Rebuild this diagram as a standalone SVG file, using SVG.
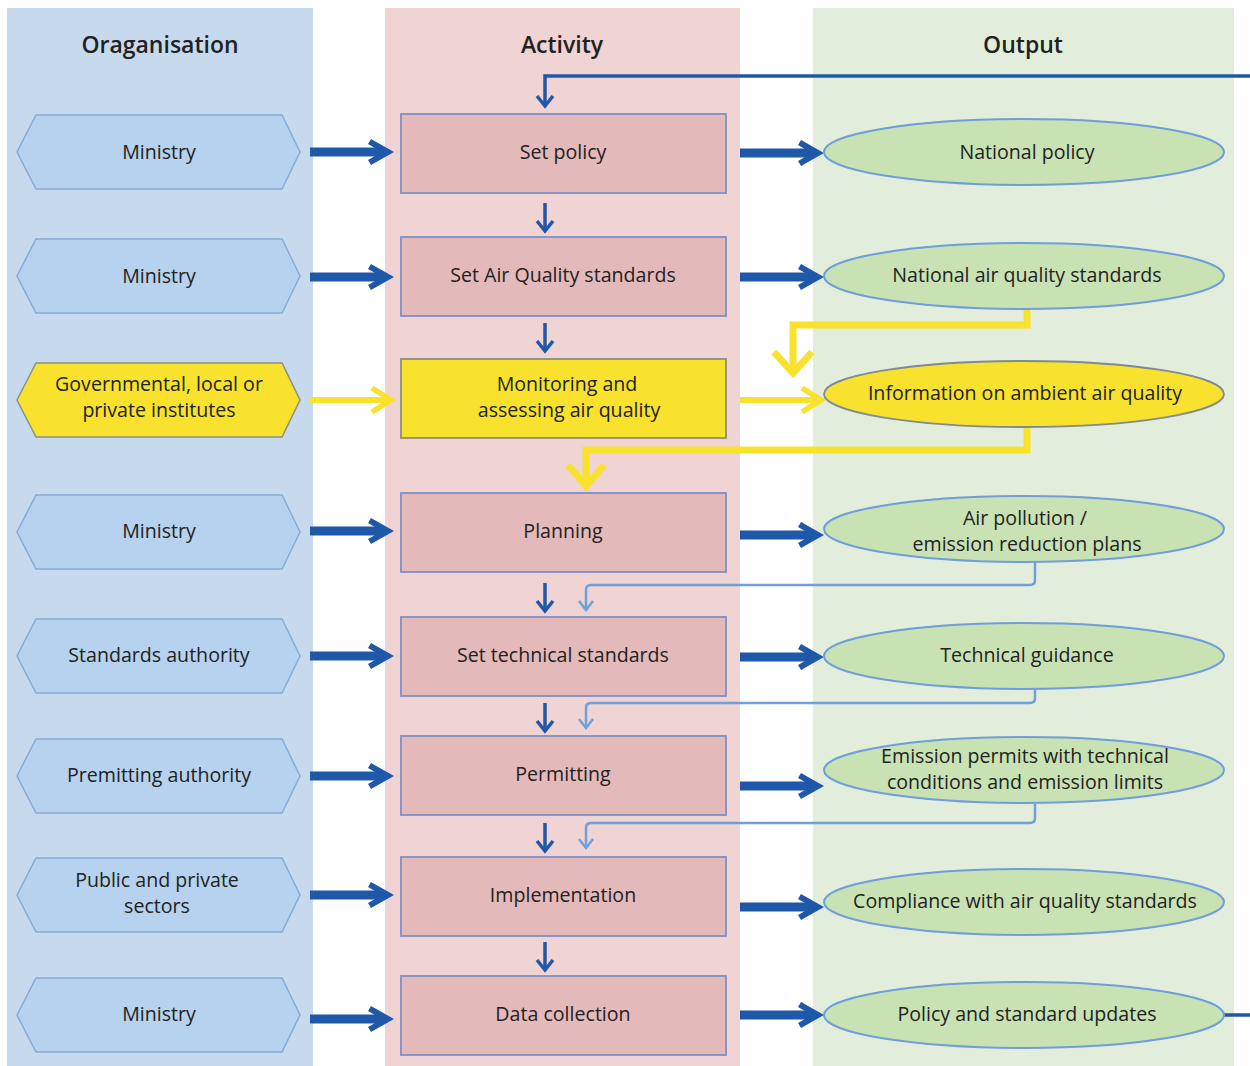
<svg xmlns="http://www.w3.org/2000/svg" xmlns:xlink="http://www.w3.org/1999/xlink" width="1250" height="1066" viewBox="0 0 1250 1066">
<style>
text{font-family:"Open Sans","Noto Sans","Liberation Sans",sans-serif;fill:#222;text-anchor:middle}
.hd{font-size:23px;font-weight:600}
.t{font-size:19.6px}
.hex{fill:#b6d2ee;stroke:#86aad6;stroke-width:1.5}
.hexY{fill:#f8e22e;stroke:#8d8f80;stroke-width:1.5}
.box{fill:#e4b9b9;stroke:#7f8fc6;stroke-width:1.8}
.boxY{fill:#f8e22e;stroke:#8d8f80;stroke-width:1.8}
.ell{fill:#c9e2b4;stroke:#6f9ed8;stroke-width:2}
.ellY{fill:#f8e22e;stroke:#7f8a96;stroke-width:1.8}
.dk{fill:none;stroke:#1f58a8;stroke-width:3.5}
.lt{fill:none;stroke:#6fa0da;stroke-width:2.5}
.yl{fill:none;stroke:#f8e22e;stroke-width:7}
.ylt{fill:none;stroke:#f8e22e;stroke-width:5.5}
</style>
<defs>
<g id="bigArrow">
<rect x="0" y="-4.5" width="74" height="9" fill="#1f58a8"/>
<polygon points="61,-13 84,0 61,13 58,8 72,0 58,-8" fill="#1f58a8"/>
</g>
<g id="downArrow">
<line x1="0" y1="0" x2="0" y2="27" class="dk"/>
<polyline points="-8,18 0,28 8,18" class="dk"/>
</g>
<g id="yArrow">
<line x1="0" y1="0" x2="78" y2="0" stroke="#f8e22e" stroke-width="6"/>
<polyline points="62,-12 81,0 62,12" class="ylt"/>
</g>
</defs>

<!-- columns -->
<rect x="7" y="8" width="306" height="1058" fill="#c6d9ed"/>
<rect x="385" y="8" width="355" height="1058" fill="#efd4d3"/>
<rect x="813" y="8" width="421" height="1058" fill="#e2eedb"/>
<text class="hd" x="160" y="53">Oraganisation</text>
<text class="hd" x="562" y="53">Activity</text>
<text class="hd" x="1023" y="53">Output</text>

<!-- connectors -->
<g id="connectors">
<use xlink:href="#bigArrow" x="310" y="152"/>
<use xlink:href="#bigArrow" x="310" y="277"/>
<use xlink:href="#bigArrow" x="310" y="531"/>
<use xlink:href="#bigArrow" x="310" y="656"/>
<use xlink:href="#bigArrow" x="310" y="776"/>
<use xlink:href="#bigArrow" x="310" y="895"/>
<use xlink:href="#bigArrow" x="310" y="1019"/>
<use xlink:href="#bigArrow" x="740" y="153"/>
<use xlink:href="#bigArrow" x="740" y="277"/>
<use xlink:href="#bigArrow" x="740" y="535"/>
<use xlink:href="#bigArrow" x="740" y="657"/>
<use xlink:href="#bigArrow" x="740" y="786"/>
<use xlink:href="#bigArrow" x="740" y="907"/>
<use xlink:href="#bigArrow" x="740" y="1015"/>
<use xlink:href="#yArrow" x="310" y="400"/>
<use xlink:href="#yArrow" x="740" y="400"/>
<use xlink:href="#downArrow" x="545" y="203"/>
<use xlink:href="#downArrow" x="545" y="323"/>
<use xlink:href="#downArrow" x="545" y="583"/>
<use xlink:href="#downArrow" x="545" y="703"/>
<use xlink:href="#downArrow" x="545" y="823"/>
<use xlink:href="#downArrow" x="545" y="942"/>
<!-- feedback loop -->
<polyline points="1250,76 545,76 545,106" class="dk"/>
<polyline points="537,96 545,106 553,96" class="dk"/>
<line x1="1224" y1="1015" x2="1250" y2="1015" class="dk"/>
<!-- light blue -->
<path d="M1035,562 V580 Q1035,585 1030,585 H591 Q586,585 586,590 V610" class="lt"/>
<polyline points="579,601 586,610 593,601" class="lt"/>
<path d="M1035,690 V698 Q1035,703 1030,703 H591 Q586,703 586,708 V728" class="lt"/>
<polyline points="579,719 586,728 593,719" class="lt"/>
<path d="M1035,804 V818 Q1035,823 1030,823 H591 Q586,823 586,828 V848" class="lt"/>
<polyline points="579,839 586,848 593,839" class="lt"/>
<!-- yellow -->
<polyline points="1027,309 1027,325 793,325 793,371" class="yl"/>
<polyline points="774,352 793,373 812,352" class="yl"/>
<polyline points="1027,428 1027,450 586,450 586,484" class="yl"/>
<polyline points="568,465 586,486 604,465" class="yl"/>
</g>

<!-- organisation -->
<g id="org1"><polygon class="hex" points="17,152 36,115 282,115 300,152 282,189 36,189"/><text class="t" x="159" y="159">Ministry</text></g>
<g id="org2"><polygon class="hex" points="17,276 36,239 282,239 300,276 282,313 36,313"/><text class="t" x="159" y="283">Ministry</text></g>
<g id="org3"><polygon class="hexY" points="17,400 36,363 282,363 300,400 282,437 36,437"/><text class="t" x="159" y="391">Governmental, local or</text><text class="t" x="159" y="417">private institutes</text></g>
<g id="org4"><polygon class="hex" points="17,532 36,495 282,495 300,532 282,569 36,569"/><text class="t" x="159" y="538">Ministry</text></g>
<g id="org5"><polygon class="hex" points="17,656 36,619 282,619 300,656 282,693 36,693"/><text class="t" x="159" y="662">Standards authority</text></g>
<g id="org6"><polygon class="hex" points="17,776 36,739 282,739 300,776 282,813 36,813"/><text class="t" x="159" y="782">Premitting authority</text></g>
<g id="org7"><polygon class="hex" points="17,895 36,858 282,858 300,895 282,932 36,932"/><text class="t" x="157" y="887">Public and private</text><text class="t" x="157" y="913">sectors</text></g>
<g id="org8"><polygon class="hex" points="17,1015 36,978 282,978 300,1015 282,1052 36,1052"/><text class="t" x="159" y="1021">Ministry</text></g>

<!-- activity -->
<g id="act1"><rect class="box" x="401" y="114" width="325" height="79"/><text class="t" x="563" y="159">Set policy</text></g>
<g id="act2"><rect class="box" x="401" y="237" width="325" height="79"/><text class="t" x="563" y="282">Set Air Quality standards</text></g>
<g id="act3"><rect class="boxY" x="401" y="359" width="325" height="79"/><text class="t" x="567" y="391">Monitoring and</text><text class="t" x="569" y="417">assessing air quality</text></g>
<g id="act4"><rect class="box" x="401" y="493" width="325" height="79"/><text class="t" x="563" y="538">Planning</text></g>
<g id="act5"><rect class="box" x="401" y="617" width="325" height="79"/><text class="t" x="563" y="662">Set technical standards</text></g>
<g id="act6"><rect class="box" x="401" y="736" width="325" height="79"/><text class="t" x="563" y="781">Permitting</text></g>
<g id="act7"><rect class="box" x="401" y="857" width="325" height="79"/><text class="t" x="563" y="902">Implementation</text></g>
<g id="act8"><rect class="box" x="401" y="976" width="325" height="79"/><text class="t" x="563" y="1021">Data collection</text></g>

<!-- output -->
<g id="out1"><ellipse class="ell" cx="1024" cy="152" rx="200" ry="33"/><text class="t" x="1027" y="159">National policy</text></g>
<g id="out2"><ellipse class="ell" cx="1024" cy="276" rx="200" ry="33"/><text class="t" x="1027" y="282">National air quality standards</text></g>
<g id="out3"><ellipse class="ellY" cx="1024" cy="394" rx="200" ry="33"/><text class="t" x="1025" y="400">Information on ambient air quality</text></g>
<g id="out4"><ellipse class="ell" cx="1024" cy="529" rx="200" ry="33"/><text class="t" x="1025" y="525">Air pollution /</text><text class="t" x="1027" y="551">emission reduction plans</text></g>
<g id="out5"><ellipse class="ell" cx="1024" cy="656" rx="200" ry="33"/><text class="t" x="1027" y="662">Technical guidance</text></g>
<g id="out6"><ellipse class="ell" cx="1024" cy="770" rx="200" ry="33"/><text class="t" x="1025" y="763">Emission permits with technical</text><text class="t" x="1025" y="789">conditions and emission limits</text></g>
<g id="out7"><ellipse class="ell" cx="1024" cy="902" rx="200" ry="33"/><text class="t" x="1025" y="908">Compliance with air quality standards</text></g>
<g id="out8"><ellipse class="ell" cx="1024" cy="1015" rx="200" ry="33"/><text class="t" x="1027" y="1021">Policy and standard updates</text></g>
</svg>
